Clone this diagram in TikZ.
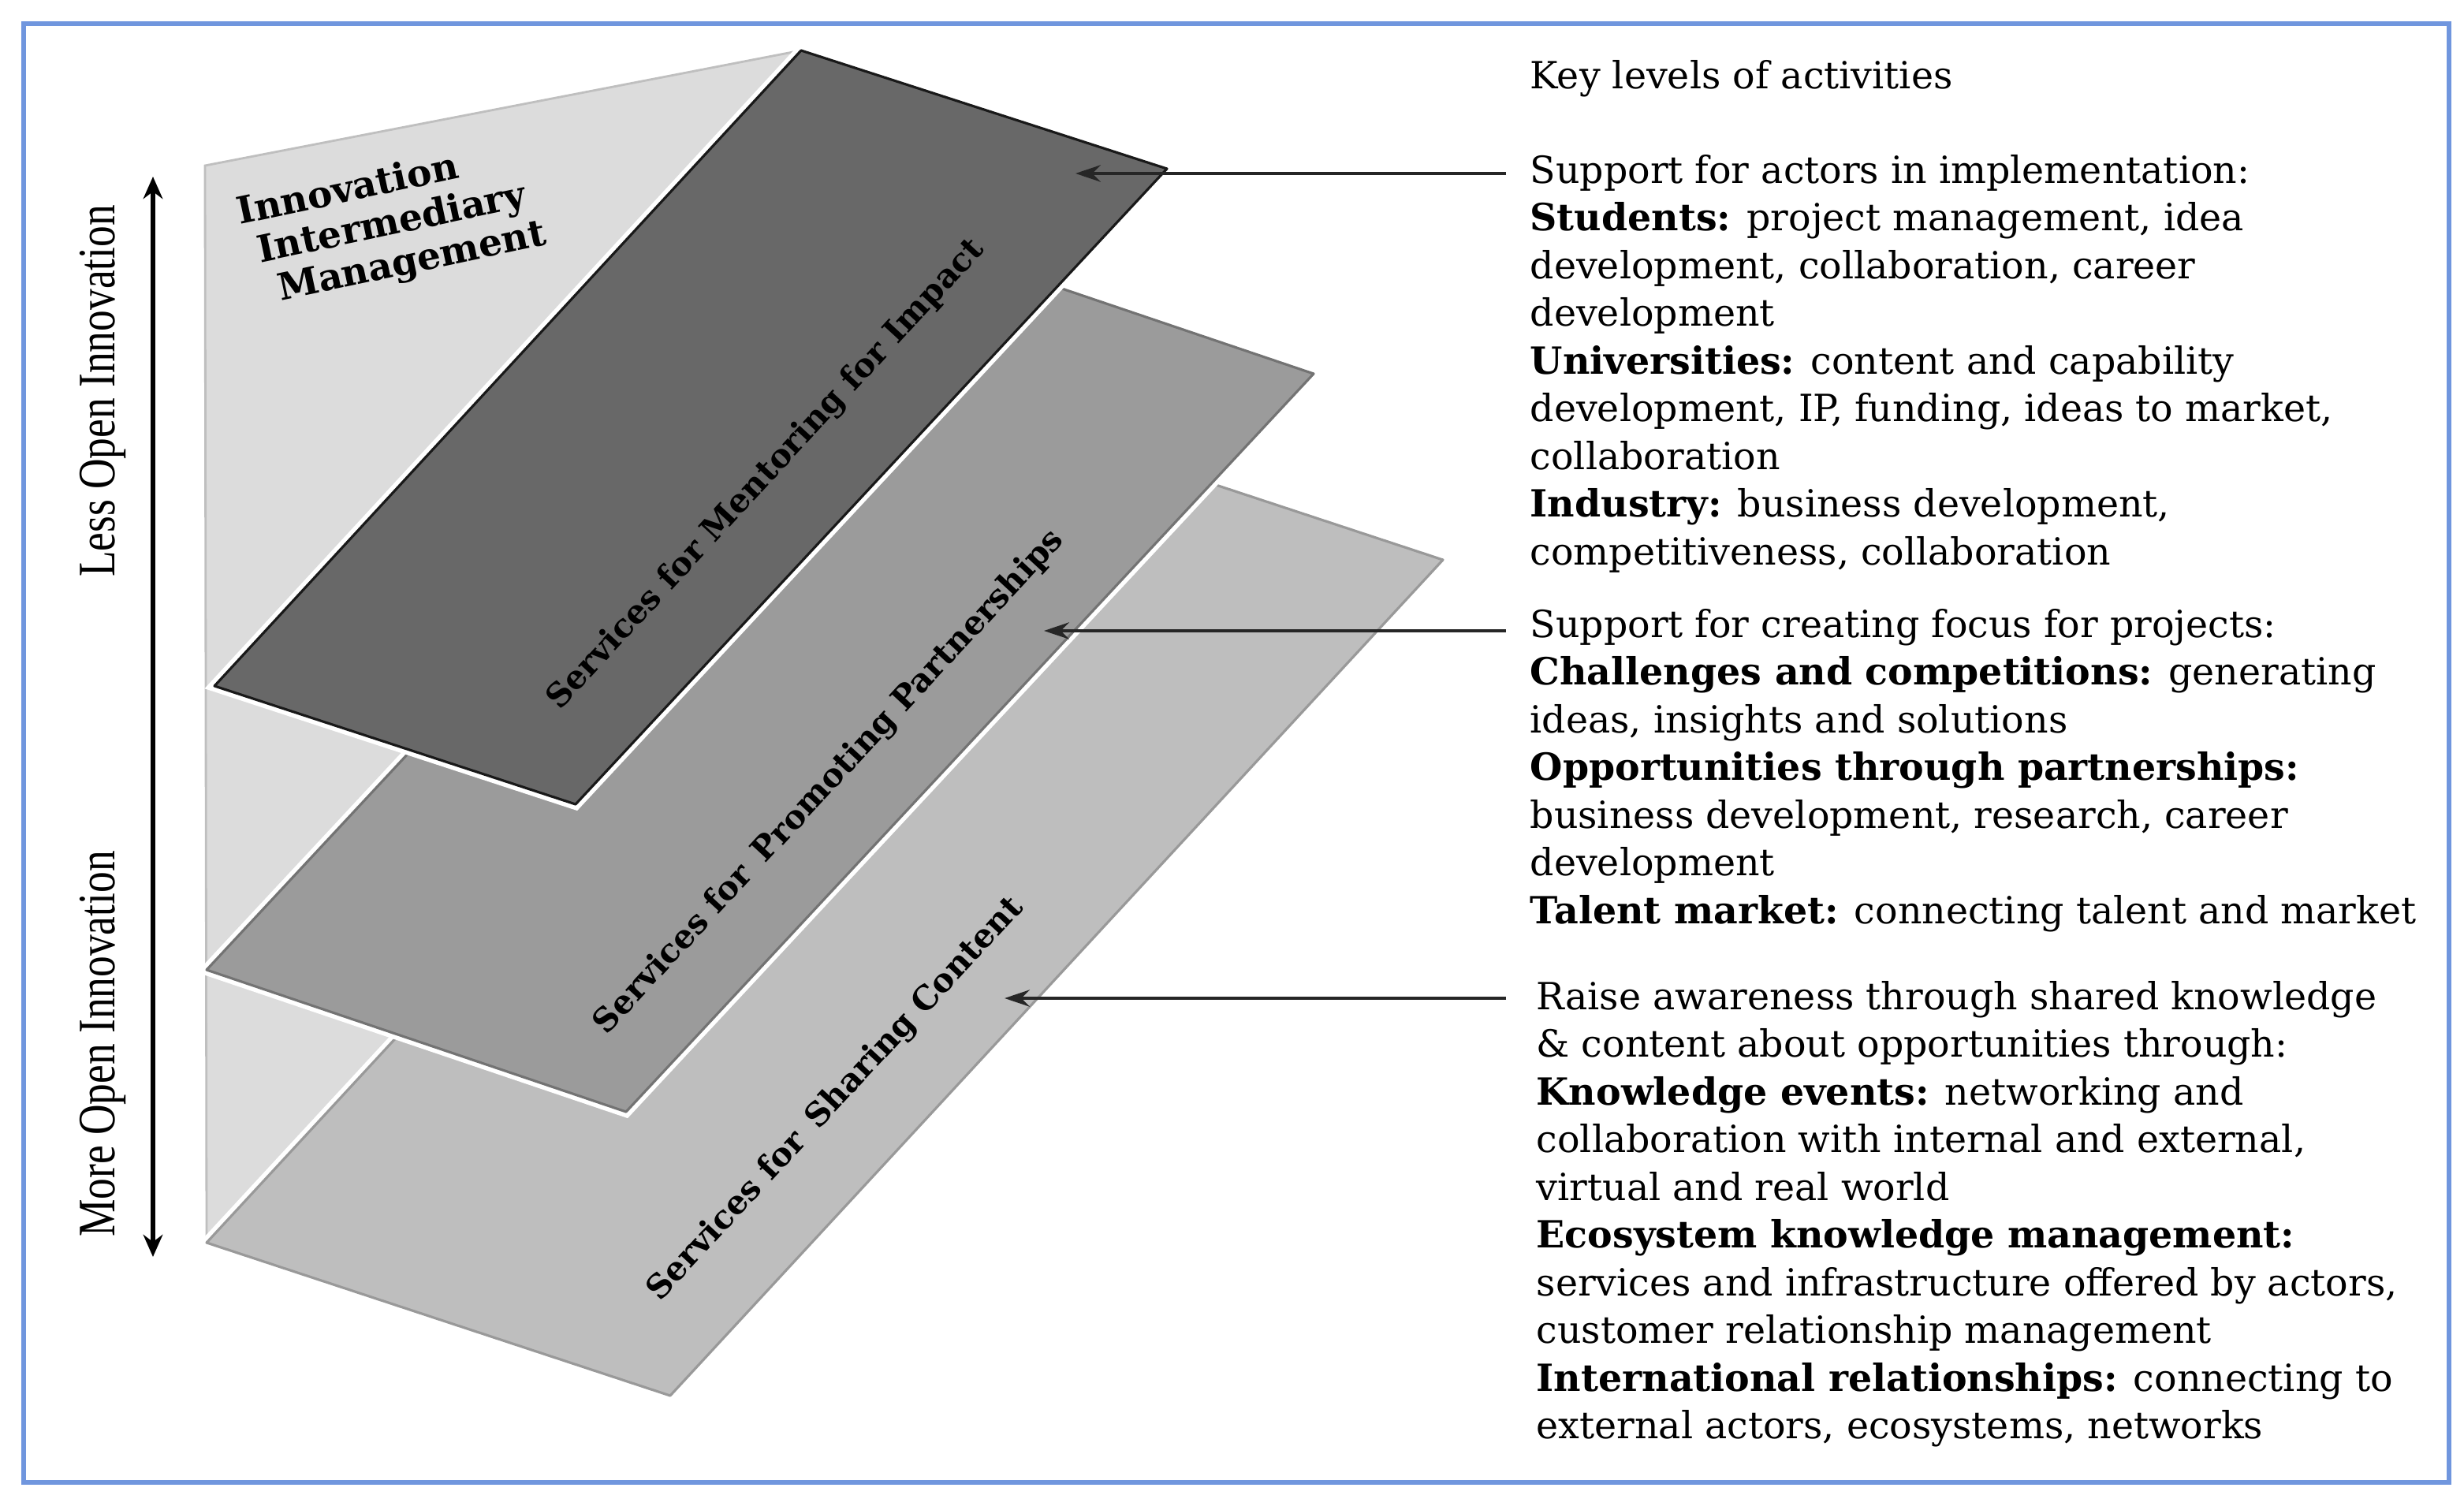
\documentclass[tikz,border=0pt]{standalone}
\usepackage{fontspec}
\setmainfont{DejaVu Serif}
\newfontfamily\sidefont{Liberation Serif}
\usepackage{tikz}
\usetikzlibrary{arrows.meta, positioning}
\definecolor{frameblue}{RGB}{112,150,222}
\definecolor{wallgray}{RGB}{220,220,220}
\definecolor{topgray}{RGB}{104,104,104}
\definecolor{midgray}{RGB}{155,155,155}
\definecolor{lowgray}{RGB}{190,190,190}
\tikzset{
  plane/.style={
    line width=0.9pt,
    line join=round,
    preaction={draw=white, line width=4pt}
    },
  planelabel/.style={
    font=\bfseries\fontsize{11.8}{13}\selectfont,
    inner sep=0pt
    },
  pointer/.style={-{Stealth[length=9pt,width=6pt]}, line width=1.3pt, draw=black!85},
  keytext/.style={
    align=left,
    anchor=north west,
    inner sep=0pt,
    font=\fontsize{13.5}{17.2}\selectfont
    },
}

\begin{document}
\begin{tikzpicture}
    \useasboundingbox (0,0) rectangle (31.25,18.95);
    \tikzstyle{sidelabel}=[rotate=90, inner sep=0pt, font=\sidefont\fontsize{19}{20}\selectfont]

    % Draw the frame
    \draw[frameblue, line width=1.8pt] (0.30,0.15) rectangle (31.06,18.65);

    % Draw the back wall
    \fill[wallgray] (2.60,16.85) -- (10.16,18.31) -- (12.42,13.79) -- (2.62,3.19) -- cycle;
    \draw[black!25, line width=0.8pt] (2.62,3.19) -- (2.60,16.85) -- (10.16,18.31);

    % Draw the three service planes, lowest first
    \foreach \name/\shade/\rim/\pL/\pB/\pR/\pT in {
        low/lowgray/black!40/{2.62,3.19}/{8.50,1.25}/{18.30,11.85}/{12.42,13.79},
        mid/midgray/black!55/{2.62,6.65}/{7.94,4.85}/{16.66,14.21}/{11.34,16.01},
        top/topgray/black!90/{2.72,10.25}/{7.30,8.75}/{14.80,16.81}/{10.16,18.31}}
        \draw[plane, fill=\shade, draw=\rim]
            (\pL) coordinate (\name-L) -- (\pB) coordinate (\name-B)
            -- (\pR) coordinate (\name-R) -- (\pT) coordinate (\name-T) -- cycle;

    % Label the planes
    \node[planelabel, rotate=47.3] (mentor) at (9.72,12.93) {Services for Mentoring for Impact};
    \node[planelabel, rotate=47.2] (partner) at (10.52,9.03) {Services for\, Promoting Partnerships};
    \node[planelabel, rotate=47.2] (sharing) at (10.60,5.01) {Services for\, Sharing Content};

    \node[rotate=12, align=left, inner sep=0pt, font=\bfseries\fontsize{13.4}{15}\selectfont] (iim) at (4.97,16.10)
        {Innovation\\ \hspace{0.15cm}Intermediary\\ \hspace{0.3cm}Management};

    % Openness scale on the left
    \coordinate (less-end) at (1.94,16.71);
    \coordinate (more-end) at (1.94,3.01);
    \draw[{Stealth[length=8pt,width=7pt]}-{Stealth[length=8pt,width=7pt]}, line width=1.6pt] (less-end) -- (more-end);
    \node[sidelabel] (less) at (1.30,13.99) {\scalebox{0.8}[1]{Less Open Innovation}};
    \node[sidelabel] (more) at (1.30,5.71) {\scalebox{0.8}[1]{More Open Innovation}};

    % Key levels of activities
    \node[keytext, anchor=base west] (title) at (19.40,17.82) {Key levels of activities};
    \node[keytext] (blk-1) at (19.40,17.055) {\strut Support for actors in implementation:\\
        \textbf{Students:} project management, idea\\
        development, collaboration, career\\
        development\\
        \textbf{Universities:} content and capability\\
        development, IP, funding, ideas to market,\\
        collaboration\\
        \textbf{Industry:} business development,\\
        competitiveness, collaboration};
    \node[keytext] (blk-2) at (19.40,11.295) {\strut Support for creating focus for projects:\\
        \textbf{Challenges and competitions:} generating\\
        ideas, insights and solutions\\
        \textbf{Opportunities through partnerships:}\\
        business development, research, career\\
        development\\
        \textbf{Talent market:} connecting talent and market};
    \node[keytext] (blk-3) at (19.48,6.575) {\strut Raise awareness through shared knowledge\\
        \& content about opportunities through:\\
        \textbf{Knowledge events:} networking and\\
        collaboration with internal and external,\\
        virtual and real world\\
        \textbf{Ecosystem knowledge management:}\\
        services and infrastructure offered by actors,\\
        customer relationship management\\
        \textbf{International relationships:} connecting to\\
        external actors, ecosystems, networks};

    % Connect each block to its plane
    \foreach \i/\x/\y in {1/13.64/16.75, 2/13.24/10.95, 3/12.74/6.29} {
        \coordinate (from-\i) at (19.10,\y);
        \coordinate (tip-\i) at (\x,\y);
        \draw[pointer] (from-\i) -- (tip-\i);
    }
\end{tikzpicture}
\end{document}
